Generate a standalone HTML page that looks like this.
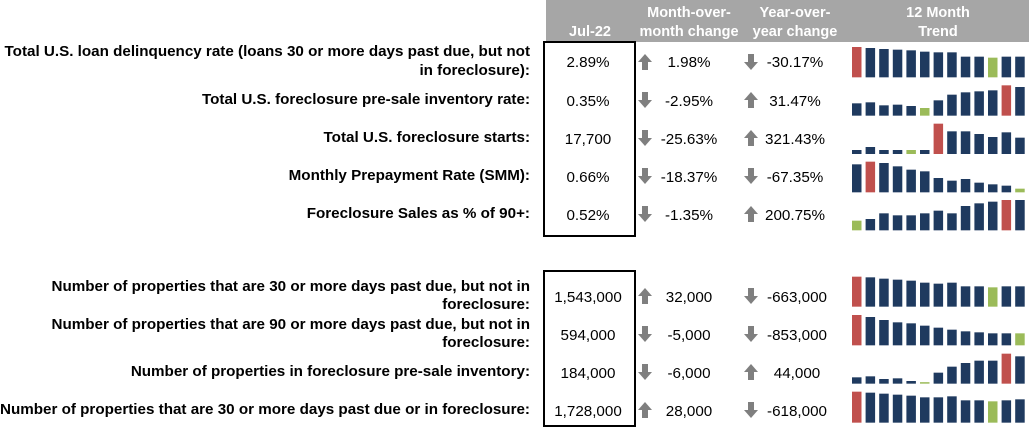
<!DOCTYPE html><html><head><style>
body{margin:0;width:1029px;height:426px;background:#fff;font-family:"Liberation Sans",Arial,sans-serif;position:relative;overflow:hidden}
.t{position:absolute;white-space:nowrap;font-size:15.2px;color:#000}
.l{font-weight:bold;text-align:right;right:499px;line-height:19px}
.h{font-weight:bold;color:#fff;text-align:center;line-height:19px;font-size:14.5px}
</style></head><body>
<div style="position:absolute;left:546px;top:0;width:483px;height:42px;background:#a6a6a6"></div>
<div class="t h" style="left:590px;top:23px;transform:translateX(-50%)">Jul-22</div>
<div class="t h" style="left:689px;top:4px;transform:translateX(-50%)">Month-over-<br>month change</div>
<div class="t h" style="left:795px;top:4px;transform:translateX(-50%)">Year-over-<br>year change</div>
<div class="t h" style="left:938px;top:4px;transform:translateX(-50%)">12 Month<br>Trend</div>
<div style="position:absolute;left:543px;top:41px;width:89px;height:192px;border:2px solid #000"></div>
<div style="position:absolute;left:543px;top:270px;width:89px;height:153px;border:2px solid #000"></div>

<div class="t l" style="top:42px">Total U.S. loan delinquency rate (loans 30 or more days past due, but not<br>in foreclosure):</div>
<div class="t l" style="top:90px">Total U.S. foreclosure pre-sale inventory rate:</div>
<div class="t l" style="top:128px">Total U.S. foreclosure starts:</div>
<div class="t l" style="top:166px">Monthly Prepayment Rate (SMM):</div>
<div class="t l" style="top:204px">Foreclosure Sales as % of 90+:</div>
<div class="t l" style="top:278px;line-height:18px">Number of properties that are 30 or more days past due, but not in<br>foreclosure:</div>
<div class="t l" style="top:316px;line-height:18px">Number of properties that are 90 or more days past due, but not in<br>foreclosure:</div>
<div class="t l" style="top:362px">Number of properties in foreclosure pre-sale inventory:</div>
<div class="t l" style="top:400px">Number of properties that are 30 or more days past due or in foreclosure:</div>

<svg width="1029" height="426" style="position:absolute;left:0;top:0" font-family="Liberation Sans, Arial, sans-serif" font-size="15.2">
<defs>
<path id="up" d="M0,-8 L7,0 L3,0 L3,8 L-3,8 L-3,0 L-7,0 Z" fill="#7f7f7f"/>
<path id="dn" d="M0,8 L7,0 L3,0 L3,-8 L-3,-8 L-3,0 L-7,0 Z" fill="#7f7f7f"/>
</defs>
<g text-anchor="middle">
<text x="588" y="67">2.89%</text><text x="588" y="106">0.35%</text><text x="588" y="144">17,700</text><text x="588" y="182">0.66%</text><text x="588" y="220">0.52%</text>
<text x="588" y="302">1,543,000</text><text x="588" y="340">594,000</text><text x="588" y="378">184,000</text><text x="588" y="416">1,728,000</text>
<text x="689" y="67">1.98%</text><text x="689" y="106">-2.95%</text><text x="689" y="144">-25.63%</text><text x="689" y="182">-18.37%</text><text x="689" y="220">-1.35%</text>
<text x="689" y="302">32,000</text><text x="689" y="340">-5,000</text><text x="689" y="378">-6,000</text><text x="689" y="416">28,000</text>
<text x="795" y="67">-30.17%</text><text x="795" y="106">31.47%</text><text x="795" y="144">321.43%</text><text x="795" y="182">-67.35%</text><text x="795" y="220">200.75%</text>
<text x="797" y="302">-663,000</text><text x="797" y="340">-853,000</text><text x="797" y="378">44,000</text><text x="797" y="416">-618,000</text>
</g>
<use href="#up" x="645" y="62"/><use href="#dn" x="645" y="100"/><use href="#dn" x="645" y="138"/><use href="#dn" x="645" y="176"/><use href="#dn" x="645" y="214"/>
<use href="#up" x="645" y="296"/><use href="#dn" x="645" y="334"/><use href="#dn" x="645" y="372"/><use href="#up" x="645" y="410"/>
<use href="#dn" x="751" y="62"/><use href="#up" x="751" y="100"/><use href="#up" x="751" y="138"/><use href="#dn" x="751" y="176"/><use href="#up" x="751" y="214"/>
<use href="#dn" x="751" y="296"/><use href="#dn" x="751" y="334"/><use href="#up" x="751" y="372"/><use href="#dn" x="751" y="410"/>
<g id="bars"></g>
</svg>
<script>
var N="#1f3a5f",R="#c0504d",G="#9bbb59";
var rows=[
[232,540,0,[141,144,147,149,151,155,157,157,170,170,173,170,170],{0:R,10:G}],
[347,540,0,[310,307,316,314,318,324,301,284,277,274,271,256,261],{5:G,11:R}],
[462,540,0,[450,441,450,450,450,450,371,394,394,402,411,397,413],{4:G,6:R}],
[577,540,0,[493,485,489,499,509,514,534,542,537,548,553,557,566],{1:R,12:G}],
[691,540,0,[662,657,640,646,646,640,632,640,618,610,605,600,600],{0:G,11:R}],
[140,840,260,[50,52,56,59,62,68,71,68,79,79,82,79,79],{0:R,10:G}],
[256,840,260,[165,171,180,187,190,197,203,209,214,217,220,220,220],{0:R,12:G}],
[371,840,260,[352,349,357,355,363,368,338,320,309,302,302,281,289],{5:G,11:R}],
[488,840,260,[395,398,401,404,407,412,412,409,421,421,424,421,418],{0:R,10:G}]];
var s="";rows.forEach(function(r){var b=r[2]+r[0]/3;r[3].forEach(function(t,i){var y=r[2]+t/3;var h=Math.max(b-y,1.5);s+='<rect x="'+(852+i*13.6)+'" y="'+(b-h)+'" width="9.5" height="'+h+'" fill="'+(r[4][i]||N)+'"/>';});});
document.getElementById("bars").innerHTML=s;
</script>
</body></html>
